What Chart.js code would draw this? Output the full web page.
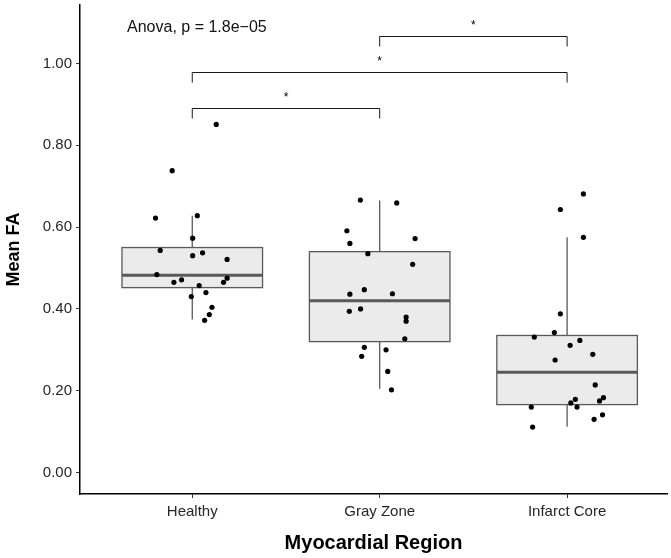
<!DOCTYPE html>
<html>
<head>
<meta charset="utf-8">
<script src="https://cdn.jsdelivr.net/npm/chart.js@4"></script>
<style>
  html, body { margin: 0; padding: 0; background: #fff; }
  #wrap { width: 671px; height: 558px; }
</style>
</head>
<body>
<div id="wrap"><canvas id="chart" width="671" height="558"></canvas></div>
<script>
// categories and box stats
const regions = ['Healthy', 'Gray Zone', 'Infarct Core'];
const whiskerLow = [0.374, 0.205, 0.112];
const q1 = [0.452, 0.320, 0.166];
const median = [0.482, 0.420, 0.245];
const q3 = [0.550, 0.540, 0.335];
const whiskerHigh = [0.628, 0.665, 0.575];

// jittered points (x position, value)
const healthyX = [1.128, 0.893, 0.804, 1.027, 1.002, 0.829, 1.002, 1.055, 1.186, 0.811, 0.902, 0.943, 1.037, 1.186, 1.167, 1.073, 0.995, 1.105, 1.091, 1.066];
const healthyY = [0.851, 0.738, 0.622, 0.628, 0.573, 0.543, 0.530, 0.537, 0.521, 0.484, 0.465, 0.471, 0.457, 0.475, 0.465, 0.440, 0.430, 0.404, 0.386, 0.372];
const grayX = [1.897, 2.091, 1.825, 1.841, 2.189, 1.937, 2.176, 1.918, 1.841, 2.068, 1.838, 1.898, 2.141, 2.141, 2.134, 1.918, 2.034, 1.904, 2.043, 2.063];
const grayY = [0.666, 0.659, 0.591, 0.560, 0.572, 0.535, 0.509, 0.447, 0.436, 0.437, 0.394, 0.400, 0.380, 0.370, 0.327, 0.306, 0.300, 0.284, 0.247, 0.202];
const infarctX = [3.087, 2.964, 3.087, 2.964, 2.932, 2.825, 3.068, 3.016, 3.137, 2.936, 3.150, 3.194, 3.173, 3.044, 3.020, 2.809, 3.053, 3.189, 3.144, 2.816];
const infarctY = [0.681, 0.643, 0.575, 0.388, 0.342, 0.331, 0.323, 0.311, 0.289, 0.275, 0.214, 0.183, 0.175, 0.179, 0.170, 0.160, 0.160, 0.141, 0.130, 0.111];

// significance brackets
const bracketFrom = [1, 1, 2];
const bracketTo = [2, 3, 3];
const bracketY = [0.890, 0.978, 1.067];
const bracketLabel = ['*', '*', '*'];

const yTicks = [0, 0.2, 0.4, 0.6, 0.8, 1.0];
const anovaText = 'Anova, p = 1.8e\u221205';

const FONT = '"Liberation Sans", Arial, Helvetica, sans-serif';

function pts(xs, ys) { return xs.map((x, i) => ({ x, y: ys[i] })); }

const boxPlugin = {
  id: 'boxes',
  beforeDatasetsDraw(chart) {
    const { ctx, scales: { x, y } } = chart;
    const halfW = 0.375;
    ctx.save();
    regions.forEach((r, i) => {
      const cx = x.getPixelForValue(i + 1);
      const l = x.getPixelForValue(i + 1 - halfW), rr = x.getPixelForValue(i + 1 + halfW);
      ctx.strokeStyle = '#595959';
      ctx.lineWidth = 1.3;
      // whiskers
      ctx.beginPath();
      ctx.moveTo(cx, y.getPixelForValue(q3[i]));
      ctx.lineTo(cx, y.getPixelForValue(whiskerHigh[i]));
      ctx.moveTo(cx, y.getPixelForValue(q1[i]));
      ctx.lineTo(cx, y.getPixelForValue(whiskerLow[i]));
      ctx.stroke();
      // box
      const top = y.getPixelForValue(q3[i]), bot = y.getPixelForValue(q1[i]);
      ctx.fillStyle = '#ebebeb';
      ctx.fillRect(l, top, rr - l, bot - top);
      ctx.strokeRect(l, top, rr - l, bot - top);
      // median
      ctx.lineWidth = 3;
      ctx.beginPath();
      const m = y.getPixelForValue(median[i]);
      ctx.moveTo(l, m);
      ctx.lineTo(rr, m);
      ctx.stroke();
    });
    // brackets
    ctx.strokeStyle = '#1a1a1a';
    ctx.lineWidth = 1;
    ctx.fillStyle = '#000';
    ctx.font = '12px ' + FONT;
    ctx.textAlign = 'center';
    ctx.textBaseline = 'alphabetic';
    bracketY.forEach((v, i) => {
      const a = x.getPixelForValue(bracketFrom[i]), b = x.getPixelForValue(bracketTo[i]);
      const py = Math.round(y.getPixelForValue(v)) + 0.5;
      ctx.beginPath();
      ctx.moveTo(a, py + 10);
      ctx.lineTo(a, py);
      ctx.lineTo(b, py);
      ctx.lineTo(b, py + 10);
      ctx.stroke();
      ctx.fillText(bracketLabel[i], (a + b) / 2, py - 8);
    });
    // anova label
    ctx.font = '16px ' + FONT;
    ctx.fillStyle = '#111';
    ctx.textAlign = 'left';
    ctx.textBaseline = 'middle';
    ctx.fillText(anovaText, x.getPixelForValue(0.652), y.getPixelForValue(1.088));
    ctx.restore();
  }
};

new Chart(document.getElementById('chart'), {
  type: 'scatter',
  data: {
    datasets: [
      { data: pts(healthyX, healthyY) },
      { data: pts(grayX, grayY) },
      { data: pts(infarctX, infarctY) }
    ]
  },
  options: {
    responsive: false,
    animation: false,
    layout: { padding: { top: 5, right: 0, left: 0, bottom: 0 } },
    elements: { point: { radius: 2.6, backgroundColor: '#000', borderWidth: 0 } },
    plugins: { legend: { display: false }, tooltip: { enabled: false } },
    scales: {
      x: {
        type: 'linear',
        min: 0.401, max: 3.533,
        afterBuildTicks: s => { s.ticks = regions.map((r, i) => ({ value: i + 1 })); },
        afterFit: s => { s.height = 64; s.paddingLeft = 0; s.paddingRight = 0; },
        ticks: {
          callback: v => regions[v - 1],
          color: '#262626',
          font: { family: FONT, size: 15 },
          padding: 5,
          maxRotation: 0
        },
        grid: { drawOnChartArea: false, drawTicks: true, tickLength: 4, color: '#333', lineWidth: 1 },
        border: { color: '#000', width: 1.5 },
        title: {
          display: true, text: 'Myocardial Region', color: '#000',
          font: { family: FONT, size: 20, weight: 'bold' }, padding: { top: 4, bottom: 3 }
        }
      },
      y: {
        min: -0.0526, max: 1.143,
        afterBuildTicks: s => { s.ticks = yTicks.map(v => ({ value: v })); },
        afterFit: s => { s.width = 80; s.paddingTop = 0; s.paddingBottom = 0; },
        ticks: {
          callback: v => v.toFixed(2),
          color: '#262626',
          font: { family: FONT, size: 15 },
          padding: 4
        },
        grid: { drawOnChartArea: false, drawTicks: true, tickLength: 4, color: '#333', lineWidth: 1 },
        border: { color: '#000', width: 1.5 },
        title: {
          display: true, text: 'Mean FA', color: '#000',
          font: { family: FONT, size: 18, weight: 'bold' }, padding: { top: 3, bottom: 4 }
        }
      }
    }
  },
  plugins: [boxPlugin]
});
</script>
</body>
</html>
